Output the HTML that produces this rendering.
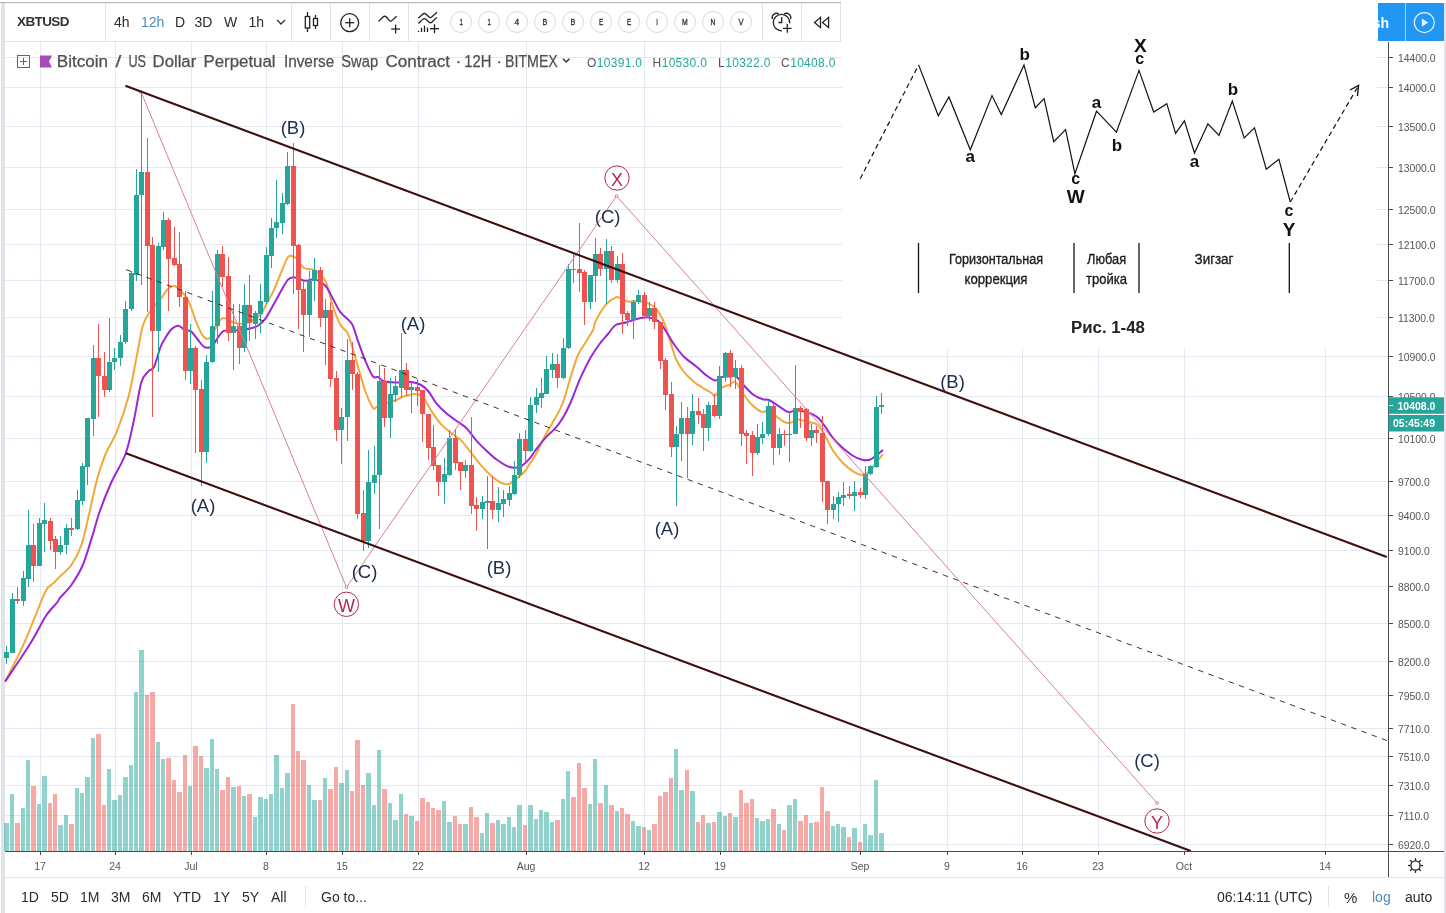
<!DOCTYPE html>
<html><head><meta charset="utf-8"><title>XBTUSD chart</title>
<style>
html,body{margin:0;padding:0;background:#fff;}
body{width:1446px;height:913px;position:relative;overflow:hidden;font-family:"Liberation Sans",sans-serif;color:#333;}
.t{position:absolute;white-space:nowrap;line-height:1;}
.tb{font-size:14px;color:#2b2b2b;top:15px;}
.bb{font-size:14px;color:#2b2b2b;top:890px;}
.ax{font-size:10.5px;color:#555;left:1398px;}
.tm{font-size:11px;color:#555;top:860px;transform:translateX(-50%);}
svg{position:absolute;left:0;top:0;}
#root{position:absolute;left:0;top:0;width:1446px;height:913px;will-change:transform;transform:translateZ(0);}
svg text{font-family:"Liberation Sans",sans-serif;}
</style></head><body><div id="root">
<svg width="1446" height="913" viewBox="0 0 1446 913">
<rect x="1" y="3" width="4" height="910" fill="#e1e3e8"/>
<rect x="1444" y="3" width="2" height="910" fill="#e1e3e8"/>
<g stroke="#e2e9f0" stroke-width="1" shape-rendering="crispEdges">
<line x1="5" y1="57.5" x2="1388" y2="57.5"/><line x1="5" y1="87.5" x2="1388" y2="87.5"/><line x1="5" y1="126.5" x2="1388" y2="126.5"/><line x1="5" y1="167.5" x2="1388" y2="167.5"/><line x1="5" y1="209.5" x2="1388" y2="209.5"/><line x1="5" y1="244.5" x2="1388" y2="244.5"/><line x1="5" y1="280.5" x2="1388" y2="280.5"/><line x1="5" y1="317.5" x2="1388" y2="317.5"/><line x1="5" y1="356.5" x2="1388" y2="356.5"/><line x1="5" y1="396.5" x2="1388" y2="396.5"/><line x1="5" y1="438.5" x2="1388" y2="438.5"/><line x1="5" y1="481.5" x2="1388" y2="481.5"/><line x1="5" y1="515.5" x2="1388" y2="515.5"/><line x1="5" y1="550.5" x2="1388" y2="550.5"/><line x1="5" y1="586.5" x2="1388" y2="586.5"/><line x1="5" y1="623.5" x2="1388" y2="623.5"/><line x1="5" y1="661.5" x2="1388" y2="661.5"/><line x1="5" y1="695.5" x2="1388" y2="695.5"/><line x1="5" y1="728.5" x2="1388" y2="728.5"/><line x1="5" y1="756.5" x2="1388" y2="756.5"/><line x1="5" y1="785.5" x2="1388" y2="785.5"/><line x1="5" y1="815.5" x2="1388" y2="815.5"/><line x1="5" y1="844.5" x2="1388" y2="844.5"/><line x1="40.5" y1="42" x2="40.5" y2="851"/><line x1="115.5" y1="42" x2="115.5" y2="851"/><line x1="191.5" y1="42" x2="191.5" y2="851"/><line x1="266.5" y1="42" x2="266.5" y2="851"/><line x1="342.5" y1="42" x2="342.5" y2="851"/><line x1="418.5" y1="42" x2="418.5" y2="851"/><line x1="526.5" y1="42" x2="526.5" y2="851"/><line x1="644.5" y1="42" x2="644.5" y2="851"/><line x1="720.5" y1="42" x2="720.5" y2="851"/><line x1="860.5" y1="42" x2="860.5" y2="851"/><line x1="947.5" y1="42" x2="947.5" y2="851"/><line x1="1022.5" y1="42" x2="1022.5" y2="851"/><line x1="1098.5" y1="42" x2="1098.5" y2="851"/><line x1="1184.5" y1="42" x2="1184.5" y2="851"/><line x1="1325.5" y1="42" x2="1325.5" y2="851"/></g>
<g shape-rendering="crispEdges">
<rect x="4" y="823" width="5" height="28" fill="rgba(38,166,154,0.5)"/><rect x="10" y="794" width="4" height="57" fill="rgba(38,166,154,0.5)"/><rect x="15" y="823" width="5" height="28" fill="rgba(239,83,80,0.5)"/><rect x="21" y="808" width="4" height="43" fill="rgba(38,166,154,0.5)"/><rect x="26" y="760" width="4" height="91" fill="rgba(38,166,154,0.5)"/><rect x="31" y="786" width="5" height="65" fill="rgba(239,83,80,0.5)"/><rect x="37" y="804" width="4" height="47" fill="rgba(38,166,154,0.5)"/><rect x="42" y="776" width="5" height="75" fill="rgba(38,166,154,0.5)"/><rect x="48" y="803" width="4" height="48" fill="rgba(239,83,80,0.5)"/><rect x="53" y="794" width="4" height="57" fill="rgba(239,83,80,0.5)"/><rect x="58" y="825" width="5" height="26" fill="rgba(38,166,154,0.5)"/><rect x="64" y="815" width="4" height="36" fill="rgba(38,166,154,0.5)"/><rect x="69" y="824" width="5" height="27" fill="rgba(239,83,80,0.5)"/><rect x="75" y="788" width="4" height="63" fill="rgba(38,166,154,0.5)"/><rect x="80" y="793" width="4" height="58" fill="rgba(38,166,154,0.5)"/><rect x="85" y="777" width="5" height="74" fill="rgba(38,166,154,0.5)"/><rect x="91" y="738" width="4" height="113" fill="rgba(38,166,154,0.5)"/><rect x="96" y="734" width="5" height="117" fill="rgba(239,83,80,0.5)"/><rect x="102" y="805" width="4" height="46" fill="rgba(239,83,80,0.5)"/><rect x="107" y="769" width="4" height="82" fill="rgba(38,166,154,0.5)"/><rect x="112" y="800" width="5" height="51" fill="rgba(38,166,154,0.5)"/><rect x="118" y="795" width="4" height="56" fill="rgba(38,166,154,0.5)"/><rect x="123" y="777" width="5" height="74" fill="rgba(38,166,154,0.5)"/><rect x="129" y="765" width="4" height="86" fill="rgba(38,166,154,0.5)"/><rect x="134" y="692" width="4" height="159" fill="rgba(38,166,154,0.5)"/><rect x="139" y="650" width="5" height="201" fill="rgba(38,166,154,0.5)"/><rect x="145" y="695" width="4" height="156" fill="rgba(239,83,80,0.5)"/><rect x="150" y="692" width="5" height="159" fill="rgba(239,83,80,0.5)"/><rect x="156" y="742" width="4" height="109" fill="rgba(38,166,154,0.5)"/><rect x="161" y="759" width="4" height="92" fill="rgba(38,166,154,0.5)"/><rect x="166" y="758" width="5" height="93" fill="rgba(239,83,80,0.5)"/><rect x="172" y="780" width="4" height="71" fill="rgba(239,83,80,0.5)"/><rect x="177" y="792" width="5" height="59" fill="rgba(239,83,80,0.5)"/><rect x="183" y="755" width="4" height="96" fill="rgba(239,83,80,0.5)"/><rect x="188" y="786" width="4" height="65" fill="rgba(38,166,154,0.5)"/><rect x="193" y="746" width="5" height="105" fill="rgba(239,83,80,0.5)"/><rect x="199" y="756" width="4" height="95" fill="rgba(239,83,80,0.5)"/><rect x="204" y="768" width="5" height="83" fill="rgba(38,166,154,0.5)"/><rect x="210" y="739" width="4" height="112" fill="rgba(38,166,154,0.5)"/><rect x="215" y="769" width="4" height="82" fill="rgba(38,166,154,0.5)"/><rect x="220" y="790" width="5" height="61" fill="rgba(239,83,80,0.5)"/><rect x="226" y="777" width="4" height="74" fill="rgba(239,83,80,0.5)"/><rect x="231" y="787" width="5" height="64" fill="rgba(38,166,154,0.5)"/><rect x="237" y="786" width="4" height="65" fill="rgba(239,83,80,0.5)"/><rect x="242" y="796" width="4" height="55" fill="rgba(38,166,154,0.5)"/><rect x="247" y="794" width="5" height="57" fill="rgba(239,83,80,0.5)"/><rect x="253" y="817" width="4" height="34" fill="rgba(38,166,154,0.5)"/><rect x="258" y="797" width="5" height="54" fill="rgba(38,166,154,0.5)"/><rect x="264" y="799" width="4" height="52" fill="rgba(38,166,154,0.5)"/><rect x="269" y="794" width="4" height="57" fill="rgba(38,166,154,0.5)"/><rect x="274" y="755" width="5" height="96" fill="rgba(38,166,154,0.5)"/><rect x="280" y="788" width="4" height="63" fill="rgba(38,166,154,0.5)"/><rect x="285" y="773" width="5" height="78" fill="rgba(38,166,154,0.5)"/><rect x="291" y="704" width="4" height="147" fill="rgba(239,83,80,0.5)"/><rect x="296" y="751" width="4" height="100" fill="rgba(239,83,80,0.5)"/><rect x="301" y="760" width="5" height="91" fill="rgba(239,83,80,0.5)"/><rect x="307" y="785" width="4" height="66" fill="rgba(38,166,154,0.5)"/><rect x="312" y="800" width="5" height="51" fill="rgba(38,166,154,0.5)"/><rect x="318" y="800" width="4" height="51" fill="rgba(239,83,80,0.5)"/><rect x="323" y="778" width="4" height="73" fill="rgba(38,166,154,0.5)"/><rect x="328" y="789" width="5" height="62" fill="rgba(239,83,80,0.5)"/><rect x="334" y="767" width="4" height="84" fill="rgba(239,83,80,0.5)"/><rect x="339" y="783" width="5" height="68" fill="rgba(38,166,154,0.5)"/><rect x="345" y="770" width="4" height="81" fill="rgba(38,166,154,0.5)"/><rect x="350" y="791" width="4" height="60" fill="rgba(239,83,80,0.5)"/><rect x="355" y="740" width="5" height="111" fill="rgba(239,83,80,0.5)"/><rect x="361" y="785" width="4" height="66" fill="rgba(239,83,80,0.5)"/><rect x="366" y="773" width="5" height="78" fill="rgba(38,166,154,0.5)"/><rect x="372" y="805" width="4" height="46" fill="rgba(38,166,154,0.5)"/><rect x="377" y="750" width="4" height="101" fill="rgba(38,166,154,0.5)"/><rect x="382" y="789" width="5" height="62" fill="rgba(239,83,80,0.5)"/><rect x="388" y="803" width="4" height="48" fill="rgba(38,166,154,0.5)"/><rect x="393" y="820" width="5" height="31" fill="rgba(38,166,154,0.5)"/><rect x="399" y="794" width="4" height="57" fill="rgba(38,166,154,0.5)"/><rect x="404" y="814" width="4" height="37" fill="rgba(239,83,80,0.5)"/><rect x="409" y="816" width="5" height="35" fill="rgba(38,166,154,0.5)"/><rect x="415" y="821" width="4" height="30" fill="rgba(239,83,80,0.5)"/><rect x="420" y="798" width="5" height="53" fill="rgba(239,83,80,0.5)"/><rect x="426" y="802" width="4" height="49" fill="rgba(239,83,80,0.5)"/><rect x="431" y="808" width="4" height="43" fill="rgba(239,83,80,0.5)"/><rect x="436" y="810" width="5" height="41" fill="rgba(239,83,80,0.5)"/><rect x="442" y="801" width="4" height="50" fill="rgba(38,166,154,0.5)"/><rect x="447" y="822" width="5" height="29" fill="rgba(38,166,154,0.5)"/><rect x="453" y="816" width="4" height="35" fill="rgba(239,83,80,0.5)"/><rect x="458" y="824" width="4" height="27" fill="rgba(239,83,80,0.5)"/><rect x="463" y="824" width="5" height="27" fill="rgba(38,166,154,0.5)"/><rect x="469" y="807" width="4" height="44" fill="rgba(239,83,80,0.5)"/><rect x="474" y="817" width="5" height="34" fill="rgba(239,83,80,0.5)"/><rect x="480" y="833" width="4" height="18" fill="rgba(38,166,154,0.5)"/><rect x="485" y="813" width="4" height="38" fill="rgba(38,166,154,0.5)"/><rect x="490" y="823" width="5" height="28" fill="rgba(239,83,80,0.5)"/><rect x="496" y="820" width="4" height="31" fill="rgba(38,166,154,0.5)"/><rect x="501" y="824" width="5" height="27" fill="rgba(38,166,154,0.5)"/><rect x="507" y="817" width="4" height="34" fill="rgba(38,166,154,0.5)"/><rect x="512" y="827" width="4" height="24" fill="rgba(38,166,154,0.5)"/><rect x="517" y="805" width="5" height="46" fill="rgba(38,166,154,0.5)"/><rect x="523" y="825" width="4" height="26" fill="rgba(239,83,80,0.5)"/><rect x="528" y="805" width="5" height="46" fill="rgba(38,166,154,0.5)"/><rect x="534" y="819" width="4" height="32" fill="rgba(38,166,154,0.5)"/><rect x="539" y="810" width="4" height="41" fill="rgba(38,166,154,0.5)"/><rect x="544" y="812" width="5" height="39" fill="rgba(38,166,154,0.5)"/><rect x="550" y="822" width="4" height="29" fill="rgba(38,166,154,0.5)"/><rect x="555" y="820" width="5" height="31" fill="rgba(239,83,80,0.5)"/><rect x="561" y="799" width="4" height="52" fill="rgba(38,166,154,0.5)"/><rect x="566" y="771" width="4" height="80" fill="rgba(38,166,154,0.5)"/><rect x="571" y="797" width="5" height="54" fill="rgba(239,83,80,0.5)"/><rect x="577" y="763" width="4" height="88" fill="rgba(239,83,80,0.5)"/><rect x="582" y="788" width="5" height="63" fill="rgba(239,83,80,0.5)"/><rect x="588" y="804" width="4" height="47" fill="rgba(38,166,154,0.5)"/><rect x="593" y="759" width="4" height="92" fill="rgba(38,166,154,0.5)"/><rect x="598" y="803" width="5" height="48" fill="rgba(239,83,80,0.5)"/><rect x="604" y="785" width="4" height="66" fill="rgba(38,166,154,0.5)"/><rect x="609" y="805" width="5" height="46" fill="rgba(239,83,80,0.5)"/><rect x="615" y="811" width="4" height="40" fill="rgba(38,166,154,0.5)"/><rect x="620" y="808" width="4" height="43" fill="rgba(239,83,80,0.5)"/><rect x="625" y="814" width="5" height="37" fill="rgba(239,83,80,0.5)"/><rect x="631" y="821" width="4" height="30" fill="rgba(38,166,154,0.5)"/><rect x="636" y="826" width="5" height="25" fill="rgba(38,166,154,0.5)"/><rect x="642" y="827" width="4" height="24" fill="rgba(239,83,80,0.5)"/><rect x="647" y="830" width="4" height="21" fill="rgba(38,166,154,0.5)"/><rect x="652" y="824" width="5" height="27" fill="rgba(239,83,80,0.5)"/><rect x="658" y="796" width="4" height="55" fill="rgba(239,83,80,0.5)"/><rect x="663" y="792" width="5" height="59" fill="rgba(239,83,80,0.5)"/><rect x="669" y="778" width="4" height="73" fill="rgba(239,83,80,0.5)"/><rect x="674" y="749" width="4" height="102" fill="rgba(38,166,154,0.5)"/><rect x="679" y="790" width="5" height="61" fill="rgba(38,166,154,0.5)"/><rect x="685" y="770" width="4" height="81" fill="rgba(239,83,80,0.5)"/><rect x="690" y="791" width="5" height="60" fill="rgba(38,166,154,0.5)"/><rect x="696" y="822" width="4" height="29" fill="rgba(239,83,80,0.5)"/><rect x="701" y="815" width="4" height="36" fill="rgba(239,83,80,0.5)"/><rect x="706" y="823" width="5" height="28" fill="rgba(38,166,154,0.5)"/><rect x="712" y="822" width="4" height="29" fill="rgba(239,83,80,0.5)"/><rect x="717" y="812" width="5" height="39" fill="rgba(38,166,154,0.5)"/><rect x="723" y="816" width="4" height="35" fill="rgba(38,166,154,0.5)"/><rect x="728" y="813" width="4" height="38" fill="rgba(239,83,80,0.5)"/><rect x="733" y="817" width="5" height="34" fill="rgba(38,166,154,0.5)"/><rect x="739" y="790" width="4" height="61" fill="rgba(239,83,80,0.5)"/><rect x="744" y="803" width="5" height="48" fill="rgba(239,83,80,0.5)"/><rect x="750" y="799" width="4" height="52" fill="rgba(239,83,80,0.5)"/><rect x="755" y="818" width="4" height="33" fill="rgba(38,166,154,0.5)"/><rect x="760" y="821" width="5" height="30" fill="rgba(38,166,154,0.5)"/><rect x="766" y="819" width="4" height="32" fill="rgba(38,166,154,0.5)"/><rect x="771" y="809" width="5" height="42" fill="rgba(239,83,80,0.5)"/><rect x="777" y="824" width="4" height="27" fill="rgba(38,166,154,0.5)"/><rect x="782" y="830" width="4" height="21" fill="rgba(239,83,80,0.5)"/><rect x="787" y="805" width="5" height="46" fill="rgba(38,166,154,0.5)"/><rect x="793" y="799" width="4" height="52" fill="rgba(38,166,154,0.5)"/><rect x="798" y="821" width="5" height="30" fill="rgba(239,83,80,0.5)"/><rect x="804" y="815" width="4" height="36" fill="rgba(239,83,80,0.5)"/><rect x="809" y="823" width="4" height="28" fill="rgba(38,166,154,0.5)"/><rect x="814" y="822" width="5" height="29" fill="rgba(239,83,80,0.5)"/><rect x="820" y="787" width="4" height="64" fill="rgba(239,83,80,0.5)"/><rect x="825" y="811" width="5" height="40" fill="rgba(239,83,80,0.5)"/><rect x="831" y="826" width="4" height="25" fill="rgba(38,166,154,0.5)"/><rect x="836" y="824" width="4" height="27" fill="rgba(38,166,154,0.5)"/><rect x="841" y="827" width="5" height="24" fill="rgba(38,166,154,0.5)"/><rect x="847" y="837" width="4" height="14" fill="rgba(239,83,80,0.5)"/><rect x="852" y="828" width="5" height="23" fill="rgba(38,166,154,0.5)"/><rect x="858" y="842" width="4" height="9" fill="rgba(239,83,80,0.5)"/><rect x="863" y="824" width="4" height="27" fill="rgba(38,166,154,0.5)"/><rect x="868" y="835" width="5" height="16" fill="rgba(38,166,154,0.5)"/><rect x="874" y="780" width="4" height="71" fill="rgba(38,166,154,0.5)"/><rect x="879" y="833" width="5" height="18" fill="rgba(38,166,154,0.5)"/></g>
<path d="M5.5,681.0 C8.4,675.1 18.2,656.2 23.0,645.7 C27.8,635.2 30.7,627.2 34.5,618.0 C38.3,608.8 42.9,596.1 46.0,590.4 C49.1,584.6 50.7,585.8 53.0,583.5 C55.3,581.2 56.9,579.6 60.0,576.5 C63.1,573.4 67.8,570.2 71.4,565.0 C75.0,559.8 78.6,553.1 81.4,545.0 C84.2,536.9 85.9,527.5 88.5,516.6 C91.1,505.7 94.2,490.0 97.0,479.6 C99.8,469.2 102.3,462.1 105.6,454.0 C108.9,445.9 113.2,440.7 117.0,431.2 C120.8,421.7 125.3,408.4 128.4,397.0 C131.5,385.6 133.6,372.3 135.5,362.8 C137.4,353.3 138.6,346.1 139.8,340.0 C141.0,333.9 141.6,330.0 142.8,326.0 C144.0,322.0 145.2,319.2 146.9,316.2 C148.6,313.2 150.7,310.9 153.0,308.0 C155.3,305.1 158.2,301.9 160.8,298.6 C163.4,295.4 166.0,290.6 168.3,288.5 C170.6,286.4 172.5,285.6 174.6,286.0 C176.7,286.4 178.6,288.5 180.9,291.0 C183.2,293.5 186.0,295.9 188.5,301.0 C191.0,306.1 193.7,315.6 196.0,321.3 C198.3,327.0 200.4,332.1 202.3,335.0 C204.2,337.9 205.7,339.0 207.4,339.0 C209.1,339.0 210.7,337.5 212.4,335.0 C214.1,332.5 215.7,326.6 217.4,323.8 C219.1,321.0 220.8,319.1 222.5,318.3 C224.2,317.6 225.6,318.6 227.5,319.3 C229.4,320.0 231.7,321.8 233.8,322.5 C235.9,323.2 237.7,323.8 240.0,323.8 C242.3,323.8 245.2,323.3 247.7,322.5 C250.2,321.7 252.9,320.3 255.2,318.8 C257.5,317.3 259.6,316.2 261.5,313.7 C263.4,311.2 264.4,307.7 266.5,303.7 C268.6,299.7 271.5,295.2 274.0,289.8 C276.5,284.4 279.4,276.5 281.7,271.0 C284.0,265.5 286.1,259.4 288.0,257.0 C289.9,254.6 291.5,256.0 293.0,256.3 C294.5,256.6 295.2,257.1 297.0,259.0 C298.8,260.9 301.3,266.3 303.9,268.0 C306.5,269.7 310.0,268.3 312.7,269.4 C315.4,270.5 317.9,272.2 320.2,274.5 C322.5,276.8 324.4,278.1 326.5,283.3 C328.6,288.6 330.5,299.1 332.8,306.0 C335.1,312.9 337.9,320.2 340.4,324.8 C342.9,329.4 345.6,328.9 347.9,333.7 C350.2,338.5 352.1,346.9 354.2,353.8 C356.3,360.7 358.6,368.8 360.5,375.2 C362.4,381.6 363.5,386.5 365.6,392.0 C367.7,397.5 371.1,405.6 373.0,408.0 C374.9,410.4 374.8,407.4 377.0,406.6 C379.2,405.8 382.9,404.1 386.0,403.0 C389.1,401.9 392.9,401.4 395.8,400.3 C398.7,399.2 400.0,397.6 403.4,396.5 C406.8,395.4 412.6,393.8 416.0,394.0 C419.4,394.2 421.0,395.1 423.5,397.8 C426.0,400.5 428.1,406.0 431.0,410.4 C433.9,414.8 437.6,420.4 441.0,424.2 C444.4,428.0 447.8,430.3 451.2,433.0 C454.6,435.7 457.9,437.2 461.3,440.6 C464.7,444.0 468.0,449.0 471.4,453.2 C474.8,457.4 478.0,462.0 481.4,465.8 C484.8,469.6 488.1,473.0 491.5,475.9 C494.9,478.8 498.7,481.6 501.6,483.0 C504.5,484.4 506.5,484.8 509.0,484.0 C511.5,483.2 514.2,480.4 516.7,478.4 C519.2,476.4 522.1,474.5 524.3,472.0 C526.5,469.5 528.2,466.0 530.0,463.3 C531.8,460.6 532.5,460.6 535.0,456.0 C537.5,451.4 541.6,442.1 545.0,435.8 C548.4,429.5 552.3,423.5 555.3,418.0 C558.3,412.5 560.3,409.7 562.8,403.0 C565.3,396.3 567.9,385.9 570.4,377.9 C572.9,369.9 575.5,360.9 578.0,355.0 C580.5,349.1 583.0,346.8 585.5,342.6 C588.0,338.4 591.3,333.6 593.0,330.0 C594.7,326.4 593.5,325.4 595.6,321.2 C597.7,317.0 602.2,308.8 605.6,304.8 C609.0,300.8 613.2,298.4 615.7,297.3 C618.2,296.2 618.7,297.8 620.8,298.5 C622.9,299.2 625.4,301.2 628.3,301.6 C631.2,302.0 635.0,300.7 638.4,301.0 C641.8,301.3 645.6,302.3 648.5,303.6 C651.4,304.9 653.5,305.7 656.0,308.6 C658.5,311.5 661.5,316.6 663.6,321.2 C665.7,325.8 666.5,330.0 668.6,336.3 C670.7,342.6 673.5,353.1 676.0,359.0 C678.5,364.9 680.7,367.8 683.7,371.6 C686.7,375.4 690.8,379.1 693.8,381.7 C696.8,384.3 698.5,385.1 701.4,387.0 C704.3,388.9 709.1,391.6 711.4,393.0 C713.7,394.4 713.3,396.3 715.0,395.5 C716.7,394.7 719.2,389.8 721.5,388.0 C723.8,386.2 726.7,386.0 729.0,385.0 C731.3,384.0 733.1,380.7 735.4,382.0 C737.7,383.3 739.9,389.3 742.6,393.0 C745.3,396.7 748.2,401.2 751.4,404.3 C754.5,407.4 758.8,410.8 761.5,411.9 C764.2,412.9 765.5,410.0 767.8,410.6 C770.1,411.2 772.6,413.7 775.3,415.6 C778.0,417.5 781.5,420.8 784.0,422.0 C786.5,423.2 788.2,423.1 790.5,422.7 C792.8,422.3 795.1,419.5 798.0,419.4 C800.9,419.3 804.8,421.1 808.0,422.0 C811.2,422.9 814.2,422.4 817.0,424.5 C819.8,426.6 821.8,430.1 824.5,434.5 C827.2,438.9 830.1,446.2 833.3,451.0 C836.4,455.8 840.0,460.1 843.4,463.5 C846.8,466.9 850.3,469.7 853.4,471.6 C856.5,473.5 859.3,475.1 862.2,474.8 C865.1,474.5 868.3,472.3 871.0,469.8 C873.7,467.3 876.7,462.2 878.6,459.7 C880.5,457.2 881.8,455.5 882.4,454.7" fill="none" stroke="#f2a93b" stroke-width="2" stroke-linejoin="round" stroke-linecap="round"/>
<path d="M5.5,681.0 C8.4,676.6 18.2,662.2 23.0,654.8 C27.8,647.4 30.7,642.9 34.5,636.4 C38.3,629.9 42.2,621.4 46.0,615.7 C49.8,610.0 55.2,605.0 57.5,602.0 C59.8,599.0 57.7,600.6 60.0,597.8 C62.3,595.0 67.6,590.5 71.4,585.0 C75.2,579.5 79.5,572.6 82.8,565.0 C86.1,557.4 88.4,548.4 91.3,539.4 C94.2,530.4 96.6,520.5 99.9,511.0 C103.2,501.5 107.0,492.0 111.3,482.5 C115.6,473.0 121.7,464.4 125.5,454.0 C129.3,443.6 131.4,431.7 134.0,419.8 C136.6,407.9 138.8,390.8 141.2,382.7 C143.6,374.6 146.2,373.9 148.3,371.3 C150.4,368.7 152.1,370.8 154.0,367.0 C155.9,363.2 158.4,352.8 160.0,348.5 C161.6,344.2 161.5,344.5 163.3,341.4 C165.1,338.3 168.3,332.6 170.8,330.0 C173.3,327.4 176.1,325.8 178.4,325.8 C180.7,325.8 182.6,329.1 184.7,330.0 C186.8,330.9 188.9,329.9 191.0,331.4 C193.1,332.9 195.2,336.5 197.3,339.0 C199.4,341.5 201.7,345.1 203.6,346.5 C205.5,347.9 206.9,348.1 208.6,347.7 C210.3,347.3 212.0,345.9 213.7,344.0 C215.4,342.1 217.0,338.6 218.7,336.4 C220.4,334.2 221.6,331.8 223.7,330.9 C225.8,330.0 228.4,331.0 231.3,330.9 C234.2,330.8 238.1,330.4 241.4,330.0 C244.8,329.6 248.5,329.1 251.4,328.3 C254.3,327.5 256.7,326.6 259.0,325.0 C261.3,323.4 262.8,322.4 265.3,318.8 C267.8,315.2 271.3,308.5 274.0,303.7 C276.7,298.9 279.4,293.8 281.7,289.8 C284.0,285.8 286.1,281.8 288.0,279.7 C289.9,277.6 291.4,277.4 293.0,277.2 C294.6,276.9 295.6,277.6 297.6,278.2 C299.6,278.8 302.1,280.6 305.0,280.8 C307.9,281.0 311.6,278.7 315.0,279.5 C318.4,280.3 322.3,282.7 325.3,285.8 C328.3,288.9 330.3,294.0 332.8,298.4 C335.3,302.8 337.2,308.0 340.4,312.2 C343.5,316.4 348.8,318.8 351.7,323.6 C354.6,328.4 355.7,334.9 358.0,341.2 C360.3,347.5 363.1,355.5 365.6,361.4 C368.1,367.3 370.9,373.9 373.0,376.5 C375.1,379.1 376.1,376.2 378.0,377.0 C379.9,377.8 381.1,380.6 384.5,381.5 C387.9,382.4 393.9,382.4 398.3,382.5 C402.7,382.6 407.2,381.6 411.0,382.0 C414.8,382.4 418.1,383.4 421.0,385.0 C423.9,386.6 426.0,388.5 428.5,391.5 C431.0,394.5 433.1,399.2 436.0,402.8 C438.9,406.4 442.7,410.1 446.0,413.0 C449.3,415.9 452.6,418.0 456.0,420.5 C459.4,423.0 462.9,424.6 466.3,428.0 C469.7,431.4 473.0,436.8 476.4,440.6 C479.8,444.4 483.1,447.6 486.5,450.7 C489.9,453.8 493.1,457.0 496.5,459.5 C499.9,462.0 503.7,464.4 506.6,465.8 C509.5,467.2 511.5,467.8 514.0,467.8 C516.5,467.8 519.0,467.4 521.7,465.8 C524.4,464.2 527.8,460.7 530.0,458.2 C532.2,455.7 532.5,454.3 535.0,451.0 C537.5,447.7 541.6,442.1 545.0,438.3 C548.4,434.5 552.3,431.6 555.3,428.2 C558.3,424.8 560.3,422.2 562.8,418.0 C565.3,413.8 567.4,409.7 570.4,403.0 C573.4,396.3 577.1,385.4 580.5,377.9 C583.9,370.3 587.1,363.6 590.5,357.7 C593.9,351.8 597.7,346.6 600.6,342.6 C603.5,338.7 605.5,336.9 608.0,334.0 C610.5,331.1 612.7,326.9 615.7,325.0 C618.7,323.1 622.4,323.5 625.8,322.5 C629.2,321.5 632.1,320.1 635.9,319.2 C639.7,318.3 644.7,317.1 648.5,317.4 C652.3,317.7 655.6,318.9 658.5,321.2 C661.4,323.5 663.5,327.5 666.0,331.3 C668.5,335.1 670.8,339.7 673.7,343.9 C676.7,348.1 679.9,352.7 683.7,356.5 C687.5,360.3 692.5,363.4 696.3,366.5 C700.1,369.6 703.3,373.1 706.4,375.4 C709.5,377.7 712.5,380.1 715.0,380.4 C717.5,380.7 719.2,377.6 721.5,377.0 C723.8,376.4 726.5,376.7 729.0,376.6 C731.5,376.5 734.0,375.4 736.3,376.6 C738.6,377.8 739.9,381.1 742.6,384.0 C745.3,386.9 749.4,391.6 752.7,394.2 C756.1,396.8 760.0,398.3 762.7,399.3 C765.4,400.3 766.5,398.9 769.0,400.0 C771.5,401.1 774.7,403.6 777.9,405.6 C781.1,407.6 785.1,411.1 788.0,411.9 C790.9,412.7 792.6,410.6 795.5,410.6 C798.4,410.6 802.0,410.8 805.6,411.9 C809.2,412.9 813.9,414.6 817.0,416.9 C820.1,419.2 821.8,422.1 824.5,425.7 C827.2,429.3 830.1,434.5 833.3,438.3 C836.4,442.1 840.0,445.4 843.4,448.4 C846.8,451.3 850.3,454.1 853.4,456.0 C856.5,457.9 859.5,459.1 862.2,459.7 C864.9,460.3 867.3,460.5 869.8,459.7 C872.3,458.9 875.3,456.2 877.4,454.7 C879.5,453.1 881.6,451.1 882.4,450.4" fill="none" stroke="#9c27d3" stroke-width="2" stroke-linejoin="round" stroke-linecap="round"/>
<g shape-rendering="crispEdges">
<rect x="6" y="646" width="1" height="18" fill="#26a69a"/><rect x="4" y="652" width="5" height="6" fill="#26a69a"/><rect x="12" y="593" width="1" height="60" fill="#26a69a"/><rect x="10" y="599" width="5" height="54" fill="#26a69a"/><rect x="17" y="587" width="1" height="17" fill="#ef5350"/><rect x="15" y="599" width="5" height="2" fill="#ef5350"/><rect x="23" y="571" width="1" height="35" fill="#26a69a"/><rect x="21" y="578" width="5" height="23" fill="#26a69a"/><rect x="28" y="510" width="1" height="77" fill="#26a69a"/><rect x="26" y="545" width="5" height="34" fill="#26a69a"/><rect x="33" y="524" width="1" height="58" fill="#ef5350"/><rect x="31" y="545" width="5" height="21" fill="#ef5350"/><rect x="39" y="518" width="1" height="48" fill="#26a69a"/><rect x="37" y="523" width="5" height="43" fill="#26a69a"/><rect x="44" y="503" width="1" height="49" fill="#26a69a"/><rect x="42" y="520" width="5" height="4" fill="#26a69a"/><rect x="50" y="518" width="1" height="32" fill="#ef5350"/><rect x="48" y="521" width="5" height="20" fill="#ef5350"/><rect x="55" y="536" width="1" height="33" fill="#ef5350"/><rect x="53" y="539" width="5" height="13" fill="#ef5350"/><rect x="60" y="536" width="1" height="19" fill="#26a69a"/><rect x="58" y="545" width="5" height="7" fill="#26a69a"/><rect x="66" y="524" width="1" height="30" fill="#26a69a"/><rect x="64" y="528" width="5" height="17" fill="#26a69a"/><rect x="71" y="518" width="1" height="18" fill="#ef5350"/><rect x="69" y="528" width="5" height="2" fill="#ef5350"/><rect x="77" y="490" width="1" height="40" fill="#26a69a"/><rect x="75" y="500" width="5" height="29" fill="#26a69a"/><rect x="82" y="463" width="1" height="42" fill="#26a69a"/><rect x="80" y="466" width="5" height="35" fill="#26a69a"/><rect x="87" y="418" width="1" height="67" fill="#26a69a"/><rect x="85" y="418" width="5" height="49" fill="#26a69a"/><rect x="93" y="345" width="1" height="91" fill="#26a69a"/><rect x="91" y="358" width="5" height="61" fill="#26a69a"/><rect x="98" y="324" width="1" height="93" fill="#ef5350"/><rect x="96" y="358" width="5" height="18" fill="#ef5350"/><rect x="104" y="352" width="1" height="45" fill="#ef5350"/><rect x="102" y="376" width="5" height="14" fill="#ef5350"/><rect x="109" y="318" width="1" height="74" fill="#26a69a"/><rect x="107" y="362" width="5" height="28" fill="#26a69a"/><rect x="114" y="348" width="1" height="22" fill="#26a69a"/><rect x="112" y="358" width="5" height="4" fill="#26a69a"/><rect x="120" y="335" width="1" height="31" fill="#26a69a"/><rect x="118" y="342" width="5" height="16" fill="#26a69a"/><rect x="125" y="301" width="1" height="43" fill="#26a69a"/><rect x="123" y="309" width="5" height="33" fill="#26a69a"/><rect x="131" y="271" width="1" height="40" fill="#26a69a"/><rect x="129" y="273" width="5" height="36" fill="#26a69a"/><rect x="136" y="169" width="1" height="112" fill="#26a69a"/><rect x="134" y="195" width="5" height="80" fill="#26a69a"/><rect x="141" y="92" width="1" height="193" fill="#26a69a"/><rect x="139" y="172" width="5" height="23" fill="#26a69a"/><rect x="147" y="138" width="1" height="174" fill="#ef5350"/><rect x="145" y="172" width="5" height="74" fill="#ef5350"/><rect x="152" y="237" width="1" height="180" fill="#ef5350"/><rect x="150" y="245" width="5" height="86" fill="#ef5350"/><rect x="158" y="243" width="1" height="129" fill="#26a69a"/><rect x="156" y="246" width="5" height="85" fill="#26a69a"/><rect x="163" y="212" width="1" height="38" fill="#26a69a"/><rect x="161" y="220" width="5" height="27" fill="#26a69a"/><rect x="168" y="218" width="1" height="93" fill="#ef5350"/><rect x="166" y="220" width="5" height="39" fill="#ef5350"/><rect x="174" y="227" width="1" height="39" fill="#ef5350"/><rect x="172" y="258" width="5" height="7" fill="#ef5350"/><rect x="179" y="232" width="1" height="75" fill="#ef5350"/><rect x="177" y="264" width="5" height="33" fill="#ef5350"/><rect x="185" y="291" width="1" height="89" fill="#ef5350"/><rect x="183" y="297" width="5" height="74" fill="#ef5350"/><rect x="190" y="324" width="1" height="60" fill="#26a69a"/><rect x="188" y="348" width="5" height="23" fill="#26a69a"/><rect x="195" y="346" width="1" height="107" fill="#ef5350"/><rect x="193" y="348" width="5" height="42" fill="#ef5350"/><rect x="201" y="380" width="1" height="106" fill="#ef5350"/><rect x="199" y="389" width="5" height="63" fill="#ef5350"/><rect x="206" y="355" width="1" height="108" fill="#26a69a"/><rect x="204" y="362" width="5" height="90" fill="#26a69a"/><rect x="212" y="291" width="1" height="72" fill="#26a69a"/><rect x="210" y="326" width="5" height="36" fill="#26a69a"/><rect x="217" y="250" width="1" height="94" fill="#26a69a"/><rect x="215" y="254" width="5" height="72" fill="#26a69a"/><rect x="222" y="246" width="1" height="41" fill="#ef5350"/><rect x="220" y="254" width="5" height="23" fill="#ef5350"/><rect x="228" y="257" width="1" height="84" fill="#ef5350"/><rect x="226" y="276" width="5" height="57" fill="#ef5350"/><rect x="233" y="304" width="1" height="66" fill="#26a69a"/><rect x="231" y="326" width="5" height="7" fill="#26a69a"/><rect x="239" y="304" width="1" height="60" fill="#ef5350"/><rect x="237" y="326" width="5" height="22" fill="#ef5350"/><rect x="244" y="284" width="1" height="68" fill="#26a69a"/><rect x="242" y="305" width="5" height="43" fill="#26a69a"/><rect x="249" y="275" width="1" height="66" fill="#ef5350"/><rect x="247" y="305" width="5" height="18" fill="#ef5350"/><rect x="255" y="311" width="1" height="28" fill="#26a69a"/><rect x="253" y="313" width="5" height="11" fill="#26a69a"/><rect x="260" y="284" width="1" height="49" fill="#26a69a"/><rect x="258" y="301" width="5" height="13" fill="#26a69a"/><rect x="266" y="247" width="1" height="57" fill="#26a69a"/><rect x="264" y="255" width="5" height="47" fill="#26a69a"/><rect x="271" y="218" width="1" height="50" fill="#26a69a"/><rect x="269" y="228" width="5" height="28" fill="#26a69a"/><rect x="276" y="180" width="1" height="58" fill="#26a69a"/><rect x="274" y="222" width="5" height="6" fill="#26a69a"/><rect x="282" y="193" width="1" height="41" fill="#26a69a"/><rect x="280" y="203" width="5" height="20" fill="#26a69a"/><rect x="287" y="152" width="1" height="53" fill="#26a69a"/><rect x="285" y="166" width="5" height="38" fill="#26a69a"/><rect x="293" y="143" width="1" height="151" fill="#ef5350"/><rect x="291" y="166" width="5" height="80" fill="#ef5350"/><rect x="298" y="244" width="1" height="85" fill="#ef5350"/><rect x="296" y="245" width="5" height="45" fill="#ef5350"/><rect x="303" y="281" width="1" height="71" fill="#ef5350"/><rect x="301" y="289" width="5" height="26" fill="#ef5350"/><rect x="309" y="271" width="1" height="66" fill="#26a69a"/><rect x="307" y="281" width="5" height="34" fill="#26a69a"/><rect x="314" y="258" width="1" height="43" fill="#26a69a"/><rect x="312" y="270" width="5" height="11" fill="#26a69a"/><rect x="320" y="267" width="1" height="60" fill="#ef5350"/><rect x="318" y="270" width="5" height="48" fill="#ef5350"/><rect x="325" y="299" width="1" height="66" fill="#26a69a"/><rect x="323" y="310" width="5" height="8" fill="#26a69a"/><rect x="330" y="302" width="1" height="85" fill="#ef5350"/><rect x="328" y="310" width="5" height="69" fill="#ef5350"/><rect x="336" y="371" width="1" height="70" fill="#ef5350"/><rect x="334" y="378" width="5" height="52" fill="#ef5350"/><rect x="341" y="408" width="1" height="56" fill="#26a69a"/><rect x="339" y="417" width="5" height="13" fill="#26a69a"/><rect x="347" y="339" width="1" height="102" fill="#26a69a"/><rect x="345" y="360" width="5" height="57" fill="#26a69a"/><rect x="352" y="342" width="1" height="48" fill="#ef5350"/><rect x="350" y="360" width="5" height="14" fill="#ef5350"/><rect x="357" y="372" width="1" height="147" fill="#ef5350"/><rect x="355" y="374" width="5" height="140" fill="#ef5350"/><rect x="363" y="490" width="1" height="61" fill="#ef5350"/><rect x="361" y="513" width="5" height="28" fill="#ef5350"/><rect x="368" y="450" width="1" height="98" fill="#26a69a"/><rect x="366" y="482" width="5" height="59" fill="#26a69a"/><rect x="374" y="446" width="1" height="48" fill="#26a69a"/><rect x="372" y="475" width="5" height="8" fill="#26a69a"/><rect x="379" y="365" width="1" height="164" fill="#26a69a"/><rect x="377" y="381" width="5" height="94" fill="#26a69a"/><rect x="384" y="368" width="1" height="59" fill="#ef5350"/><rect x="382" y="381" width="5" height="37" fill="#ef5350"/><rect x="390" y="378" width="1" height="60" fill="#26a69a"/><rect x="388" y="394" width="5" height="24" fill="#26a69a"/><rect x="395" y="376" width="1" height="26" fill="#26a69a"/><rect x="393" y="386" width="5" height="9" fill="#26a69a"/><rect x="401" y="333" width="1" height="65" fill="#26a69a"/><rect x="399" y="370" width="5" height="18" fill="#26a69a"/><rect x="406" y="363" width="1" height="33" fill="#ef5350"/><rect x="404" y="370" width="5" height="20" fill="#ef5350"/><rect x="411" y="382" width="1" height="31" fill="#26a69a"/><rect x="409" y="387" width="5" height="3" fill="#26a69a"/><rect x="417" y="379" width="1" height="27" fill="#ef5350"/><rect x="415" y="387" width="5" height="4" fill="#ef5350"/><rect x="422" y="390" width="1" height="52" fill="#ef5350"/><rect x="420" y="390" width="5" height="24" fill="#ef5350"/><rect x="428" y="414" width="1" height="46" fill="#ef5350"/><rect x="426" y="414" width="5" height="34" fill="#ef5350"/><rect x="433" y="425" width="1" height="45" fill="#ef5350"/><rect x="431" y="447" width="5" height="19" fill="#ef5350"/><rect x="438" y="465" width="1" height="31" fill="#ef5350"/><rect x="436" y="465" width="5" height="17" fill="#ef5350"/><rect x="444" y="458" width="1" height="46" fill="#26a69a"/><rect x="442" y="474" width="5" height="8" fill="#26a69a"/><rect x="449" y="430" width="1" height="46" fill="#26a69a"/><rect x="447" y="438" width="5" height="37" fill="#26a69a"/><rect x="455" y="429" width="1" height="41" fill="#ef5350"/><rect x="453" y="438" width="5" height="25" fill="#ef5350"/><rect x="460" y="462" width="1" height="28" fill="#ef5350"/><rect x="458" y="462" width="5" height="9" fill="#ef5350"/><rect x="465" y="460" width="1" height="18" fill="#26a69a"/><rect x="463" y="465" width="5" height="6" fill="#26a69a"/><rect x="471" y="417" width="1" height="97" fill="#ef5350"/><rect x="469" y="465" width="5" height="41" fill="#ef5350"/><rect x="476" y="497" width="1" height="34" fill="#ef5350"/><rect x="474" y="505" width="5" height="4" fill="#ef5350"/><rect x="482" y="496" width="1" height="23" fill="#26a69a"/><rect x="480" y="502" width="5" height="7" fill="#26a69a"/><rect x="487" y="476" width="1" height="73" fill="#26a69a"/><rect x="485" y="501" width="5" height="2" fill="#26a69a"/><rect x="492" y="476" width="1" height="43" fill="#ef5350"/><rect x="490" y="501" width="5" height="9" fill="#ef5350"/><rect x="498" y="487" width="1" height="35" fill="#26a69a"/><rect x="496" y="503" width="5" height="7" fill="#26a69a"/><rect x="503" y="490" width="1" height="27" fill="#26a69a"/><rect x="501" y="499" width="5" height="5" fill="#26a69a"/><rect x="509" y="486" width="1" height="20" fill="#26a69a"/><rect x="507" y="493" width="5" height="7" fill="#26a69a"/><rect x="514" y="461" width="1" height="34" fill="#26a69a"/><rect x="512" y="475" width="5" height="19" fill="#26a69a"/><rect x="519" y="433" width="1" height="45" fill="#26a69a"/><rect x="517" y="439" width="5" height="36" fill="#26a69a"/><rect x="525" y="430" width="1" height="31" fill="#ef5350"/><rect x="523" y="439" width="5" height="12" fill="#ef5350"/><rect x="530" y="397" width="1" height="55" fill="#26a69a"/><rect x="528" y="405" width="5" height="46" fill="#26a69a"/><rect x="536" y="388" width="1" height="25" fill="#26a69a"/><rect x="534" y="397" width="5" height="8" fill="#26a69a"/><rect x="541" y="378" width="1" height="30" fill="#26a69a"/><rect x="539" y="393" width="5" height="5" fill="#26a69a"/><rect x="546" y="356" width="1" height="38" fill="#26a69a"/><rect x="544" y="369" width="5" height="25" fill="#26a69a"/><rect x="552" y="353" width="1" height="25" fill="#26a69a"/><rect x="550" y="364" width="5" height="6" fill="#26a69a"/><rect x="557" y="354" width="1" height="34" fill="#ef5350"/><rect x="555" y="364" width="5" height="14" fill="#ef5350"/><rect x="563" y="338" width="1" height="41" fill="#26a69a"/><rect x="561" y="348" width="5" height="30" fill="#26a69a"/><rect x="568" y="264" width="1" height="85" fill="#26a69a"/><rect x="566" y="269" width="5" height="79" fill="#26a69a"/><rect x="573" y="254" width="1" height="29" fill="#ef5350"/><rect x="571" y="269" width="5" height="1" fill="#ef5350"/><rect x="579" y="223" width="1" height="69" fill="#ef5350"/><rect x="577" y="269" width="5" height="4" fill="#ef5350"/><rect x="584" y="270" width="1" height="55" fill="#ef5350"/><rect x="582" y="272" width="5" height="30" fill="#ef5350"/><rect x="590" y="275" width="1" height="34" fill="#26a69a"/><rect x="588" y="275" width="5" height="27" fill="#26a69a"/><rect x="595" y="238" width="1" height="64" fill="#26a69a"/><rect x="593" y="254" width="5" height="22" fill="#26a69a"/><rect x="600" y="248" width="1" height="28" fill="#ef5350"/><rect x="598" y="254" width="5" height="15" fill="#ef5350"/><rect x="606" y="239" width="1" height="65" fill="#26a69a"/><rect x="604" y="251" width="5" height="18" fill="#26a69a"/><rect x="611" y="246" width="1" height="37" fill="#ef5350"/><rect x="609" y="251" width="5" height="29" fill="#ef5350"/><rect x="617" y="256" width="1" height="27" fill="#26a69a"/><rect x="615" y="264" width="5" height="16" fill="#26a69a"/><rect x="622" y="253" width="1" height="81" fill="#ef5350"/><rect x="620" y="264" width="5" height="50" fill="#ef5350"/><rect x="627" y="311" width="1" height="15" fill="#ef5350"/><rect x="625" y="313" width="5" height="7" fill="#ef5350"/><rect x="633" y="300" width="1" height="39" fill="#26a69a"/><rect x="631" y="302" width="5" height="18" fill="#26a69a"/><rect x="638" y="290" width="1" height="14" fill="#26a69a"/><rect x="636" y="295" width="5" height="7" fill="#26a69a"/><rect x="644" y="292" width="1" height="26" fill="#ef5350"/><rect x="642" y="295" width="5" height="21" fill="#ef5350"/><rect x="649" y="302" width="1" height="19" fill="#26a69a"/><rect x="647" y="308" width="5" height="8" fill="#26a69a"/><rect x="654" y="302" width="1" height="27" fill="#ef5350"/><rect x="652" y="308" width="5" height="14" fill="#ef5350"/><rect x="660" y="322" width="1" height="47" fill="#ef5350"/><rect x="658" y="322" width="5" height="39" fill="#ef5350"/><rect x="665" y="358" width="1" height="52" fill="#ef5350"/><rect x="663" y="360" width="5" height="35" fill="#ef5350"/><rect x="671" y="382" width="1" height="75" fill="#ef5350"/><rect x="669" y="394" width="5" height="53" fill="#ef5350"/><rect x="676" y="426" width="1" height="80" fill="#26a69a"/><rect x="674" y="434" width="5" height="13" fill="#26a69a"/><rect x="681" y="402" width="1" height="59" fill="#26a69a"/><rect x="679" y="418" width="5" height="16" fill="#26a69a"/><rect x="687" y="407" width="1" height="71" fill="#ef5350"/><rect x="685" y="418" width="5" height="16" fill="#ef5350"/><rect x="692" y="394" width="1" height="51" fill="#26a69a"/><rect x="690" y="411" width="5" height="23" fill="#26a69a"/><rect x="698" y="398" width="1" height="26" fill="#ef5350"/><rect x="696" y="411" width="5" height="4" fill="#ef5350"/><rect x="703" y="409" width="1" height="42" fill="#ef5350"/><rect x="701" y="414" width="5" height="14" fill="#ef5350"/><rect x="708" y="402" width="1" height="39" fill="#26a69a"/><rect x="706" y="405" width="5" height="23" fill="#26a69a"/><rect x="714" y="394" width="1" height="23" fill="#ef5350"/><rect x="712" y="405" width="5" height="11" fill="#ef5350"/><rect x="719" y="366" width="1" height="53" fill="#26a69a"/><rect x="717" y="376" width="5" height="40" fill="#26a69a"/><rect x="725" y="352" width="1" height="30" fill="#26a69a"/><rect x="723" y="353" width="5" height="24" fill="#26a69a"/><rect x="730" y="350" width="1" height="37" fill="#ef5350"/><rect x="728" y="353" width="5" height="24" fill="#ef5350"/><rect x="735" y="360" width="1" height="29" fill="#26a69a"/><rect x="733" y="368" width="5" height="9" fill="#26a69a"/><rect x="741" y="365" width="1" height="81" fill="#ef5350"/><rect x="739" y="368" width="5" height="66" fill="#ef5350"/><rect x="746" y="430" width="1" height="34" fill="#ef5350"/><rect x="744" y="433" width="5" height="3" fill="#ef5350"/><rect x="752" y="431" width="1" height="45" fill="#ef5350"/><rect x="750" y="435" width="5" height="18" fill="#ef5350"/><rect x="757" y="424" width="1" height="31" fill="#26a69a"/><rect x="755" y="437" width="5" height="16" fill="#26a69a"/><rect x="762" y="422" width="1" height="22" fill="#26a69a"/><rect x="760" y="434" width="5" height="4" fill="#26a69a"/><rect x="768" y="400" width="1" height="36" fill="#26a69a"/><rect x="766" y="406" width="5" height="28" fill="#26a69a"/><rect x="773" y="404" width="1" height="61" fill="#ef5350"/><rect x="771" y="406" width="5" height="42" fill="#ef5350"/><rect x="779" y="428" width="1" height="27" fill="#26a69a"/><rect x="777" y="434" width="5" height="14" fill="#26a69a"/><rect x="784" y="430" width="1" height="16" fill="#ef5350"/><rect x="782" y="434" width="5" height="1" fill="#ef5350"/><rect x="789" y="411" width="1" height="51" fill="#26a69a"/><rect x="787" y="434" width="5" height="1" fill="#26a69a"/><rect x="795" y="365" width="1" height="69" fill="#26a69a"/><rect x="793" y="408" width="5" height="26" fill="#26a69a"/><rect x="800" y="406" width="1" height="22" fill="#ef5350"/><rect x="798" y="408" width="5" height="3" fill="#ef5350"/><rect x="806" y="408" width="1" height="33" fill="#ef5350"/><rect x="804" y="409" width="5" height="29" fill="#ef5350"/><rect x="811" y="424" width="1" height="22" fill="#26a69a"/><rect x="809" y="430" width="5" height="8" fill="#26a69a"/><rect x="816" y="426" width="1" height="17" fill="#ef5350"/><rect x="814" y="430" width="5" height="3" fill="#ef5350"/><rect x="822" y="416" width="1" height="86" fill="#ef5350"/><rect x="820" y="433" width="5" height="49" fill="#ef5350"/><rect x="827" y="481" width="1" height="43" fill="#ef5350"/><rect x="825" y="481" width="5" height="29" fill="#ef5350"/><rect x="833" y="496" width="1" height="23" fill="#26a69a"/><rect x="831" y="504" width="5" height="6" fill="#26a69a"/><rect x="838" y="492" width="1" height="30" fill="#26a69a"/><rect x="836" y="497" width="5" height="7" fill="#26a69a"/><rect x="843" y="482" width="1" height="24" fill="#26a69a"/><rect x="841" y="495" width="5" height="3" fill="#26a69a"/><rect x="849" y="486" width="1" height="13" fill="#ef5350"/><rect x="847" y="494" width="5" height="2" fill="#ef5350"/><rect x="854" y="481" width="1" height="30" fill="#26a69a"/><rect x="852" y="492" width="5" height="4" fill="#26a69a"/><rect x="860" y="488" width="1" height="10" fill="#ef5350"/><rect x="858" y="492" width="5" height="3" fill="#ef5350"/><rect x="865" y="466" width="1" height="33" fill="#26a69a"/><rect x="863" y="474" width="5" height="21" fill="#26a69a"/><rect x="870" y="465" width="1" height="10" fill="#26a69a"/><rect x="868" y="466" width="5" height="8" fill="#26a69a"/><rect x="876" y="396" width="1" height="72" fill="#26a69a"/><rect x="874" y="407" width="5" height="60" fill="#26a69a"/><rect x="881" y="393" width="1" height="21" fill="#26a69a"/><rect x="879" y="405" width="5" height="2" fill="#26a69a"/></g>
<polyline points="141,92 346.5,587.3 616.5,196 1157,803" fill="none" stroke="#dd7d98" stroke-width="1"/>
<circle cx="141" cy="92" r="1.4" fill="#fff" stroke="#c2506e" stroke-width="0.7"/><circle cx="346.5" cy="587.3" r="1.4" fill="#fff" stroke="#c2506e" stroke-width="0.7"/><circle cx="616.5" cy="196" r="1.4" fill="#fff" stroke="#c2506e" stroke-width="0.7"/><circle cx="1157" cy="803" r="1.4" fill="#fff" stroke="#c2506e" stroke-width="0.7"/>
<g stroke="#3d0f0f" stroke-width="2.1" fill="none"><line x1="125.4" y1="85.8" x2="1386.8" y2="556.9"/><line x1="126" y1="453.3" x2="1190.8" y2="851"/></g>
<line x1="126" y1="269.6" x2="1387.5" y2="740.8" stroke="#3d2424" stroke-width="0.95" stroke-dasharray="5.4,5.5"/>
<text x="293" y="133.8" font-size="18.5" fill="#1f2f50" text-anchor="middle">(B)</text><text x="413" y="329.8" font-size="18.5" fill="#1f2f50" text-anchor="middle">(A)</text><text x="203" y="511.8" font-size="18.5" fill="#1f2f50" text-anchor="middle">(A)</text><text x="364.5" y="577.8" font-size="18.5" fill="#1f2f50" text-anchor="middle">(C)</text><text x="499" y="573.8" font-size="18.5" fill="#1f2f50" text-anchor="middle">(B)</text><text x="607.7" y="223.3" font-size="18.5" fill="#1f2f50" text-anchor="middle">(C)</text><text x="667" y="534.8" font-size="18.5" fill="#1f2f50" text-anchor="middle">(A)</text><text x="952.5" y="388.3" font-size="18.5" fill="#1f2f50" text-anchor="middle">(B)</text><text x="1147" y="766.8" font-size="18.5" fill="#1f2f50" text-anchor="middle">(C)</text><circle cx="346.4" cy="604.3" r="12.2" fill="none" stroke="#b0284e" stroke-width="1"/><text x="346.4" y="612.3" font-size="18" fill="#b0284e" text-anchor="middle">W</text><circle cx="617" cy="178" r="12.2" fill="none" stroke="#b0284e" stroke-width="1"/><text x="617" y="186" font-size="18" fill="#b0284e" text-anchor="middle">X</text><circle cx="1157" cy="821" r="12.2" fill="none" stroke="#b0284e" stroke-width="1"/><text x="1157" y="829" font-size="18" fill="#b0284e" text-anchor="middle">Y</text>
<rect x="842" y="0" width="535" height="349" fill="#fff"/>
<polyline points="918.6,64.9 938.3,115.8 948.9,96.9 970.3,149.8 992,95.6 1001.3,114.5 1024,64.9 1035.3,107.7 1044.1,98.6 1053.7,141.7 1065.6,129.6 1074.9,173.7 1096.5,111.2 1116.4,132.1 1139,70.4 1153.7,112 1166.8,103.7 1175.6,133.4 1184.4,120.8 1194.5,153 1207.9,123.8 1219,135.4 1232.3,101.1 1244.2,137.9 1254.5,127.9 1266.3,169.2 1278.9,159.4 1290.3,202" fill="none" stroke="#111" stroke-width="1.2" stroke-linejoin="miter"/>
<line x1="860.2" y1="178.8" x2="918.6" y2="64.9" stroke="#111" stroke-width="1.2" stroke-dasharray="5,3.5"/>
<line x1="1290.3" y1="202" x2="1358.3" y2="86" stroke="#111" stroke-width="1.2" stroke-dasharray="5,3.5"/>
<polyline points="1350,90 1358.5,85.5 1357.5,96" fill="none" stroke="#111" stroke-width="1.4"/>
<text x="1024.8" y="60" font-size="17" font-weight="bold" fill="#111" text-anchor="middle">b</text><text x="970.3" y="162" font-size="17" font-weight="bold" fill="#111" text-anchor="middle">a</text><text x="1075.6" y="184" font-size="16" font-weight="bold" fill="#111" text-anchor="middle">c</text><text x="1075.6" y="203" font-size="19" font-weight="bold" fill="#111" text-anchor="middle">W</text><text x="1096.5" y="107.5" font-size="17" font-weight="bold" fill="#111" text-anchor="middle">a</text><text x="1117" y="150.5" font-size="17" font-weight="bold" fill="#111" text-anchor="middle">b</text><text x="1140.3" y="51.5" font-size="19" font-weight="bold" fill="#111" text-anchor="middle">X</text><text x="1139.8" y="64" font-size="16" font-weight="bold" fill="#111" text-anchor="middle">c</text><text x="1194.5" y="166.5" font-size="17" font-weight="bold" fill="#111" text-anchor="middle">a</text><text x="1233" y="95" font-size="17" font-weight="bold" fill="#111" text-anchor="middle">b</text><text x="1289" y="215.5" font-size="16" font-weight="bold" fill="#111" text-anchor="middle">c</text><text x="1289" y="235.5" font-size="19" font-weight="bold" fill="#111" text-anchor="middle">Y</text>
<g stroke="#111" stroke-width="1.3"><line x1="918.5" y1="243" x2="918.5" y2="293"/><line x1="1074" y1="243" x2="1074" y2="293"/><line x1="1139" y1="243" x2="1139" y2="293"/><line x1="1289.3" y1="243" x2="1289.3" y2="293"/></g>
<text x="949.0" y="264" font-size="15.5" fill="#1a1a1a" stroke="#1a1a1a" stroke-width="0.35" textLength="94" lengthAdjust="spacingAndGlyphs">Горизонтальная</text><text x="964.5" y="284" font-size="15.5" fill="#1a1a1a" stroke="#1a1a1a" stroke-width="0.35" textLength="63" lengthAdjust="spacingAndGlyphs">коррекция</text><text x="1087.1" y="264" font-size="15.5" fill="#1a1a1a" stroke="#1a1a1a" stroke-width="0.35" textLength="39" lengthAdjust="spacingAndGlyphs">Любая</text><text x="1086.1" y="284" font-size="15.5" fill="#1a1a1a" stroke="#1a1a1a" stroke-width="0.35" textLength="41" lengthAdjust="spacingAndGlyphs">тройка</text><text x="1194.5" y="264" font-size="15.5" fill="#1a1a1a" stroke="#1a1a1a" stroke-width="0.35" textLength="39" lengthAdjust="spacingAndGlyphs">Зигзаг</text><text x="1108" y="333" font-size="16.8" font-weight="bold" fill="#222" text-anchor="middle">Рис. 1-48</text>
<rect x="0" y="2" width="841" height="1.2" fill="#b9b9b9"/>
<rect x="5" y="41" width="836" height="1" fill="#e0e3eb"/>
<g stroke="#e0e3eb" stroke-width="1" shape-rendering="crispEdges"><line x1="105.5" y1="3" x2="105.5" y2="41"/><line x1="291.5" y1="3" x2="291.5" y2="41"/><line x1="330.5" y1="3" x2="330.5" y2="41"/><line x1="369.5" y1="3" x2="369.5" y2="41"/><line x1="408.5" y1="3" x2="408.5" y2="41"/><line x1="762.5" y1="3" x2="762.5" y2="41"/><line x1="801.5" y1="3" x2="801.5" y2="41"/><line x1="840.5" y1="3" x2="840.5" y2="41"/></g>
<polyline points="277,20 281,24 285,20" fill="none" stroke="#333" stroke-width="1.3"/>
<g stroke="#222" stroke-width="1.3" fill="none"><line x1="307.5" y1="12" x2="307.5" y2="32"/><rect x="305.3" y="16.5" width="4.4" height="11.5" fill="#fff"/><line x1="315.5" y1="15" x2="315.5" y2="29"/><rect x="313.5" y="18.5" width="4" height="7" fill="#fff"/></g>
<g stroke="#222" stroke-width="1.3" fill="none"><circle cx="349.7" cy="22.7" r="9"/><line x1="345.2" y1="22.7" x2="354.2" y2="22.7"/><line x1="349.7" y1="18.2" x2="349.7" y2="27.2"/></g>
<g stroke="#222" stroke-width="1.3" fill="none" stroke-linejoin="round"><path d="M378.5,21.4 L382.8,17.2 Q384.7,15.4 386.4,17 L389,20.2 Q390.6,21.9 392.2,20.4 L396.6,16.2"/><line x1="391.2" y1="29" x2="400" y2="29"/><line x1="395.6" y1="24.6" x2="395.6" y2="33.4"/></g>
<g stroke="#222" stroke-width="1.3" fill="none" stroke-linejoin="round"><path d="M418.4,18.3 L422.6,14.2 Q424.2,12.9 425.8,14 L428.8,16.8 Q430.4,18.2 432,16.8 L436.9,12.3"/><path d="M418.4,23.5 L422.6,19.4 Q424.2,18.1 425.8,19.2 L428.8,22 Q430.4,23.4 432,22 L436.9,17.4"/><line x1="430" y1="28.7" x2="439" y2="28.7"/><line x1="434.5" y1="24.2" x2="434.5" y2="33.2"/><line x1="418.5" y1="30.8" x2="418.5" y2="32"/><line x1="421.5" y1="27.8" x2="421.5" y2="32"/><line x1="424.5" y1="25.7" x2="424.5" y2="32"/><line x1="427.5" y1="27.6" x2="427.5" y2="32"/></g>
<circle cx="461.0" cy="22" r="10.5" fill="#fff" stroke="#d8d9dd" stroke-width="1"/><text x="459.4" y="25.4" font-size="9.6" fill="#2b2b2b" stroke="#2b2b2b" stroke-width="0.3" textLength="3.3" lengthAdjust="spacingAndGlyphs">1</text><circle cx="489.0" cy="22" r="10.5" fill="#fff" stroke="#d8d9dd" stroke-width="1"/><text x="487.4" y="25.4" font-size="9.6" fill="#2b2b2b" stroke="#2b2b2b" stroke-width="0.3" textLength="3.3" lengthAdjust="spacingAndGlyphs">1</text><circle cx="517.0" cy="22" r="10.5" fill="#fff" stroke="#d8d9dd" stroke-width="1"/><text x="514.6" y="25.4" font-size="9.6" fill="#2b2b2b" stroke="#2b2b2b" stroke-width="0.3" textLength="4.7" lengthAdjust="spacingAndGlyphs">4</text><circle cx="545.0" cy="22" r="10.5" fill="#fff" stroke="#d8d9dd" stroke-width="1"/><text x="542.6" y="25.4" font-size="9.6" fill="#2b2b2b" stroke="#2b2b2b" stroke-width="0.3" textLength="4.7" lengthAdjust="spacingAndGlyphs">B</text><circle cx="573.0" cy="22" r="10.5" fill="#fff" stroke="#d8d9dd" stroke-width="1"/><text x="570.6" y="25.4" font-size="9.6" fill="#2b2b2b" stroke="#2b2b2b" stroke-width="0.3" textLength="4.7" lengthAdjust="spacingAndGlyphs">B</text><circle cx="601.0" cy="22" r="10.5" fill="#fff" stroke="#d8d9dd" stroke-width="1"/><text x="598.9" y="25.4" font-size="9.6" fill="#2b2b2b" stroke="#2b2b2b" stroke-width="0.3" textLength="4.3" lengthAdjust="spacingAndGlyphs">E</text><circle cx="629.0" cy="22" r="10.5" fill="#fff" stroke="#d8d9dd" stroke-width="1"/><text x="626.9" y="25.4" font-size="9.6" fill="#2b2b2b" stroke="#2b2b2b" stroke-width="0.3" textLength="4.3" lengthAdjust="spacingAndGlyphs">E</text><circle cx="657.0" cy="22" r="10.5" fill="#fff" stroke="#d8d9dd" stroke-width="1"/><text x="656.2" y="25.4" font-size="9.6" fill="#2b2b2b" stroke="#2b2b2b" stroke-width="0.3" textLength="1.6" lengthAdjust="spacingAndGlyphs">I</text><circle cx="685.0" cy="22" r="10.5" fill="#fff" stroke="#d8d9dd" stroke-width="1"/><text x="682.1" y="25.4" font-size="9.6" fill="#2b2b2b" stroke="#2b2b2b" stroke-width="0.3" textLength="5.7" lengthAdjust="spacingAndGlyphs">M</text><circle cx="713.0" cy="22" r="10.5" fill="#fff" stroke="#d8d9dd" stroke-width="1"/><text x="710.6" y="25.4" font-size="9.6" fill="#2b2b2b" stroke="#2b2b2b" stroke-width="0.3" textLength="4.8" lengthAdjust="spacingAndGlyphs">N</text><circle cx="741.0" cy="22" r="10.5" fill="#fff" stroke="#d8d9dd" stroke-width="1"/><text x="738.5" y="25.4" font-size="9.6" fill="#2b2b2b" stroke="#2b2b2b" stroke-width="0.3" textLength="5.1" lengthAdjust="spacingAndGlyphs">V</text>
<g stroke="#222" stroke-width="1.3" fill="none"><path d="M789.7,23.2 A8.2,8.2 0 1 0 781.9,30.8"/><path d="M772.4,19 A4.4,4.4 0 0 1 778.8,13.9"/><path d="M784.2,13.9 A4.4,4.4 0 0 1 790.6,19"/><polyline points="781.7,17 781.7,22.5 778.4,22.5"/><line x1="783" y1="28.4" x2="791.6" y2="28.4"/><line x1="787.3" y1="24.1" x2="787.3" y2="32.7"/></g>
<g stroke="#222" stroke-width="1.3" fill="none" stroke-linejoin="miter"><polygon points="814.5,22.5 820.5,17.3 820.5,27.7"/><polygon points="822.5,22.5 828.6,17.3 828.6,27.7"/></g>
<rect x="1378" y="3" width="66" height="38" fill="#2196f3"/>
<rect x="1405" y="3" width="1" height="38" fill="#a6d5fa"/>
<svg x="1378" y="3" width="27" height="38" viewBox="1378 3 27 38"><text x="1372.8" y="28" font-size="14" font-weight="bold" fill="#fff">sh</text></svg>
<circle cx="1424.3" cy="22.6" r="10" fill="none" stroke="#e3f2fd" stroke-width="1.2"/><polygon points="1421.8,18.4 1428.3,22.6 1421.8,26.8" fill="#e3f2fd"/>
<g stroke="#666" stroke-width="1" fill="none" shape-rendering="crispEdges"><rect x="17.5" y="55.5" width="12" height="12" rx="1"/><line x1="20" y1="61.5" x2="27" y2="61.5"/><line x1="23.5" y1="58" x2="23.5" y2="65"/></g>
<polygon points="40,55.5 52,55.5 49,61.5 52,67.5 40,67.5" fill="#ab47bc"/>
<polyline points="563,58.8 566.2,62 569.5,58.8" fill="none" stroke="#333" stroke-width="1.5"/>
<rect x="1388" y="42" width="1" height="836" fill="#4a4a4a"/>
<g stroke="#4a4a4a" stroke-width="1" shape-rendering="crispEdges"><line x1="1389" y1="57.5" x2="1393" y2="57.5"/><line x1="1389" y1="87.5" x2="1393" y2="87.5"/><line x1="1389" y1="126.5" x2="1393" y2="126.5"/><line x1="1389" y1="167.5" x2="1393" y2="167.5"/><line x1="1389" y1="209.5" x2="1393" y2="209.5"/><line x1="1389" y1="244.5" x2="1393" y2="244.5"/><line x1="1389" y1="280.5" x2="1393" y2="280.5"/><line x1="1389" y1="317.5" x2="1393" y2="317.5"/><line x1="1389" y1="356.5" x2="1393" y2="356.5"/><line x1="1389" y1="396.5" x2="1393" y2="396.5"/><line x1="1389" y1="438.5" x2="1393" y2="438.5"/><line x1="1389" y1="481.5" x2="1393" y2="481.5"/><line x1="1389" y1="515.5" x2="1393" y2="515.5"/><line x1="1389" y1="550.5" x2="1393" y2="550.5"/><line x1="1389" y1="586.5" x2="1393" y2="586.5"/><line x1="1389" y1="623.5" x2="1393" y2="623.5"/><line x1="1389" y1="661.5" x2="1393" y2="661.5"/><line x1="1389" y1="695.5" x2="1393" y2="695.5"/><line x1="1389" y1="728.5" x2="1393" y2="728.5"/><line x1="1389" y1="756.5" x2="1393" y2="756.5"/><line x1="1389" y1="785.5" x2="1393" y2="785.5"/><line x1="1389" y1="815.5" x2="1393" y2="815.5"/><line x1="1389" y1="844.5" x2="1393" y2="844.5"/></g>
<g font-size="10.4" fill="#555"><text x="1398" y="62">14400.0</text><text x="1398" y="92">14000.0</text><text x="1398" y="131">13500.0</text><text x="1398" y="172">13000.0</text><text x="1398" y="214">12500.0</text><text x="1398" y="249">12100.0</text><text x="1398" y="285">11700.0</text><text x="1398" y="322">11300.0</text><text x="1398" y="361">10900.0</text><text x="1398" y="401">10500.0</text><text x="1398" y="443">10100.0</text><text x="1398" y="486">9700.0</text><text x="1398" y="520">9400.0</text><text x="1398" y="555">9100.0</text><text x="1398" y="591">8800.0</text><text x="1398" y="628">8500.0</text><text x="1398" y="666">8200.0</text><text x="1398" y="700">7950.0</text><text x="1398" y="733">7710.0</text><text x="1398" y="761">7510.0</text><text x="1398" y="790">7310.0</text><text x="1398" y="820">7110.0</text><text x="1398" y="849">6920.0</text></g>
<rect x="1388.5" y="397.3" width="55.5" height="16.5" fill="#26a69a"/><rect x="1388.5" y="415" width="55.5" height="16.5" fill="#26a69a"/>
<line x1="1389" y1="405.5" x2="1393" y2="405.5" stroke="#fff" stroke-width="1"/>
<text x="1397.5" y="409.5" font-size="10.5" font-weight="bold" fill="#fff">10408.0</text><text x="1393" y="427.3" font-size="10.5" font-weight="bold" fill="#fff">05:45:49</text>
<rect x="5" y="851" width="1439" height="1" fill="#4a4a4a"/>
<g stroke="#4a4a4a" stroke-width="1" shape-rendering="crispEdges"><line x1="40.5" y1="852" x2="40.5" y2="855"/><line x1="115.5" y1="852" x2="115.5" y2="855"/><line x1="191.5" y1="852" x2="191.5" y2="855"/><line x1="266.5" y1="852" x2="266.5" y2="855"/><line x1="342.5" y1="852" x2="342.5" y2="855"/><line x1="418.5" y1="852" x2="418.5" y2="855"/><line x1="526.5" y1="852" x2="526.5" y2="855"/><line x1="644.5" y1="852" x2="644.5" y2="855"/><line x1="720.5" y1="852" x2="720.5" y2="855"/><line x1="860.5" y1="852" x2="860.5" y2="855"/><line x1="947.5" y1="852" x2="947.5" y2="855"/><line x1="1022.5" y1="852" x2="1022.5" y2="855"/><line x1="1098.5" y1="852" x2="1098.5" y2="855"/><line x1="1184.5" y1="852" x2="1184.5" y2="855"/><line x1="1325.5" y1="852" x2="1325.5" y2="855"/></g>
<g font-size="10.5" fill="#555" text-anchor="middle"><text x="40" y="870">17</text><text x="115" y="870">24</text><text x="191" y="870">Jul</text><text x="266" y="870">8</text><text x="342" y="870">15</text><text x="418" y="870">22</text><text x="526" y="870">Aug</text><text x="644" y="870">12</text><text x="720" y="870">19</text><text x="860" y="870">Sep</text><text x="947" y="870">9</text><text x="1022" y="870">16</text><text x="1098" y="870">23</text><text x="1184" y="870">Oct</text><text x="1325" y="870">14</text></g>
<g stroke="#222" stroke-width="1.3" fill="none"><circle cx="1415.5" cy="865.5" r="4.6"/><line x1="1420.5" y1="865.5" x2="1423.1" y2="865.5"/><line x1="1419.0" y1="869.0" x2="1420.9" y2="870.7"/><line x1="1415.5" y1="870.5" x2="1415.5" y2="872.9"/><line x1="1412.0" y1="869.0" x2="1410.1" y2="870.7"/><line x1="1410.5" y1="865.5" x2="1407.9" y2="865.5"/><line x1="1412.0" y1="862.0" x2="1410.1" y2="860.3"/><line x1="1415.5" y1="860.5" x2="1415.5" y2="858.1"/><line x1="1419.0" y1="862.0" x2="1420.9" y2="860.3"/></g>
<rect x="5" y="877" width="1439" height="1" fill="#e0e3eb"/>
<line x1="305.5" y1="886" x2="305.5" y2="907" stroke="#e0e3eb"/><line x1="1328.5" y1="886" x2="1328.5" y2="907" stroke="#e0e3eb"/>
<g font-size="16" fill="#505050" stroke="#505050" stroke-width="0.25"><text x="56.8" y="66.8" textLength="51.3" lengthAdjust="spacingAndGlyphs">Bitcoin</text><text x="115.5" y="66.8" textLength="5.8" lengthAdjust="spacingAndGlyphs">/</text><text x="128.4" y="66.8" textLength="17.5" lengthAdjust="spacingAndGlyphs">US</text><text x="152.6" y="66.8" textLength="43.6" lengthAdjust="spacingAndGlyphs">Dollar</text><text x="203.4" y="66.8" textLength="72.2" lengthAdjust="spacingAndGlyphs">Perpetual</text><text x="283.9" y="66.8" textLength="50.3" lengthAdjust="spacingAndGlyphs">Inverse</text><text x="341.3" y="66.8" textLength="36.8" lengthAdjust="spacingAndGlyphs">Swap</text><text x="385.5" y="66.8" textLength="64.6" lengthAdjust="spacingAndGlyphs">Contract</text><text x="455.8" y="66.8">·</text><text x="464.3" y="66.8" textLength="27.1" lengthAdjust="spacingAndGlyphs">12H</text><text x="496.6" y="66.8">·</text><text x="505" y="66.8" textLength="52.8" lengthAdjust="spacingAndGlyphs">BITMEX</text></g>
</svg>
<div class="t" style="left:17px;top:15px;font-size:13.5px;font-weight:bold;color:#333;letter-spacing:-0.6px;">XBTUSD</div>
<div class="t tb" style="left:114px;">4h</div>
<div class="t tb" style="left:141px;color:#4a8cc2;">12h</div>
<div class="t tb" style="left:175px;">D</div>
<div class="t tb" style="left:194.5px;">3D</div>
<div class="t tb" style="left:224px;">W</div>
<div class="t tb" style="left:248.5px;">1h</div>
<div class="t" style="left:587px;top:57px;font-size:12px;color:#555;">O<span style="color:#26a69a;letter-spacing:0.3px;margin-left:0.5px">10391.0</span></div>
<div class="t" style="left:652.5px;top:57px;font-size:12px;color:#555;">H<span style="color:#26a69a;letter-spacing:0.3px;margin-left:0.5px">10530.0</span></div>
<div class="t" style="left:718px;top:57px;font-size:12px;color:#555;">L<span style="color:#26a69a;letter-spacing:0.3px;margin-left:0.5px">10322.0</span></div>
<div class="t" style="left:781px;top:57px;font-size:12px;color:#555;">C<span style="color:#26a69a;letter-spacing:0.3px;margin-left:0.5px">10408.0</span></div>
<div class="t bb" style="left:21px;">1D</div>
<div class="t bb" style="left:51px;">5D</div>
<div class="t bb" style="left:80px;">1M</div>
<div class="t bb" style="left:111px;">3M</div>
<div class="t bb" style="left:142px;">6M</div>
<div class="t bb" style="left:173px;">YTD</div>
<div class="t bb" style="left:213px;">1Y</div>
<div class="t bb" style="left:242px;">5Y</div>
<div class="t bb" style="left:271px;">All</div>
<div class="t bb" style="left:321px;">Go to...</div>
<div class="t bb" style="left:1217px;">06:14:11 (UTC)</div>
<div class="t bb" style="left:1344px;font-size:15px;">%</div>
<div class="t bb" style="left:1372px;color:#4a8cc2;">log</div>
<div class="t bb" style="left:1405px;">auto</div>
</div></body></html>
